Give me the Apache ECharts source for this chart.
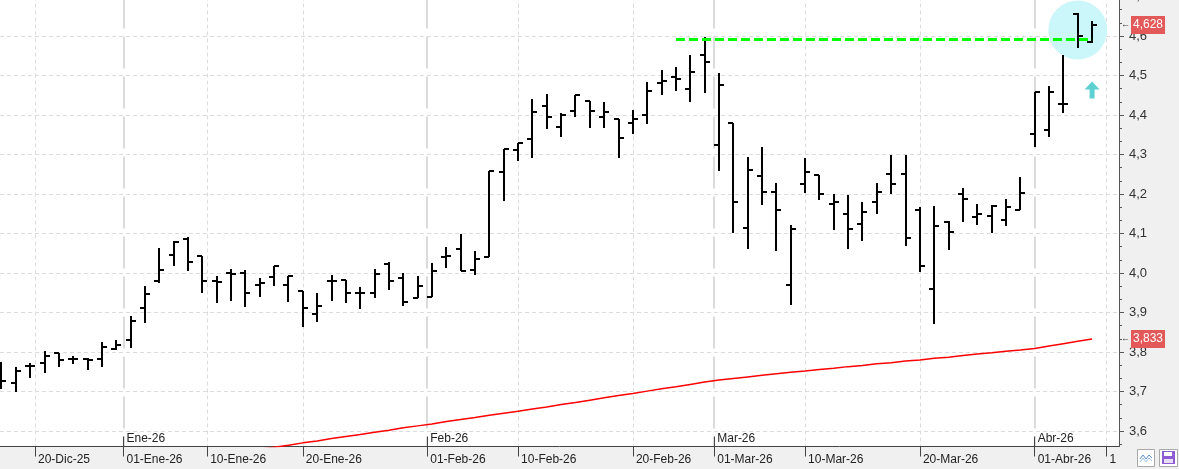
<!DOCTYPE html>
<html>
<head>
<meta charset="utf-8">
<title>OHLC diario</title>
<script src="https://cdn.jsdelivr.net/npm/echarts@6.0.0/dist/echarts.min.js"></script>
<style>
    html, body { margin: 0; padding: 0; background: #f0f0f0; }
    #chart_con { width: 1179px; height: 469px; }
</style>
</head>
<body>
<div id="chart_con"></div>
<script>
// trading days shown on the chart
const dates = [
    '2025-12-17', '2025-12-18', '2025-12-19', '2025-12-22', '2025-12-23', '2025-12-24', '2025-12-29', '2025-12-30', '2025-12-31',
    '2026-01-02', '2026-01-05', '2026-01-06', '2026-01-07', '2026-01-08', '2026-01-09', '2026-01-12', '2026-01-13', '2026-01-14',
    '2026-01-15', '2026-01-16', '2026-01-19', '2026-01-20', '2026-01-21', '2026-01-22', '2026-01-23', '2026-01-26', '2026-01-27',
    '2026-01-28', '2026-01-29', '2026-01-30',
    '2026-02-02', '2026-02-03', '2026-02-04', '2026-02-05', '2026-02-06', '2026-02-09', '2026-02-10', '2026-02-11', '2026-02-12',
    '2026-02-13', '2026-02-16', '2026-02-17', '2026-02-18', '2026-02-19', '2026-02-20', '2026-02-23', '2026-02-24', '2026-02-25',
    '2026-02-26', '2026-02-27',
    '2026-03-02', '2026-03-03', '2026-03-04', '2026-03-05', '2026-03-06', '2026-03-09', '2026-03-10', '2026-03-11', '2026-03-12',
    '2026-03-13', '2026-03-16', '2026-03-17', '2026-03-18', '2026-03-19', '2026-03-20', '2026-03-23', '2026-03-24', '2026-03-25',
    '2026-03-26', '2026-03-27', '2026-03-30', '2026-03-31',
    '2026-04-01', '2026-04-02', '2026-04-07', '2026-04-08', '2026-04-09'
];

const openValues = [
    3.742, 3.721, 3.765, 3.771, 3.797, 3.782, 3.782, 3.782, 3.807, 3.830,
    3.911, 3.979, 4.045, 4.086, 4.043, 3.981, 3.999, 3.999, 3.969, 3.989,
    3.969, 3.954, 3.895, 3.980, 3.982, 3.949, 3.950, 4.022, 3.987, 3.936,
    3.940, 4.040, 4.060, 4.007, 4.040, 4.255, 4.311, 4.338, 4.422, 4.369,
    4.410, 4.435, 4.395, 4.390, 4.381, 4.399, 4.482, 4.495, 4.466, 4.552,
    4.324, 4.379, 4.113, 4.245, 4.204, 3.969, 4.225, 4.247, 4.175, 4.149,
    4.123, 4.179, 4.250, 4.250, 4.159, 3.959, 4.129, 4.199, 4.143, 4.144,
    4.133, 4.159, 4.351, 4.362, 4.427, 4.656, 4.586
];
const highValues = [
    3.774, 3.761, 3.771, 3.802, 3.797, 3.790, 3.784, 3.825, 3.830, 3.891,
    3.967, 4.063, 4.081, 4.090, 4.043, 3.992, 4.009, 4.008, 3.987, 4.018,
    3.992, 3.954, 3.949, 3.995, 3.982, 3.965, 4.009, 4.027, 3.999, 3.992,
    4.025, 4.065, 4.099, 4.055, 4.258, 4.314, 4.328, 4.440, 4.453, 4.404,
    4.451, 4.435, 4.433, 4.391, 4.413, 4.484, 4.514, 4.522, 4.553, 4.598,
    4.506, 4.381, 4.294, 4.318, 4.227, 4.121, 4.291, 4.249, 4.199, 4.197,
    4.179, 4.227, 4.299, 4.299, 4.167, 4.170, 4.131, 4.214, 4.175, 4.171,
    4.187, 4.242, 4.458, 4.473, 4.552, 4.659, 4.639
];
const lowValues = [
    3.706, 3.699, 3.735, 3.748, 3.763, 3.770, 3.754, 3.763, 3.805, 3.811,
    3.874, 3.974, 4.018, 4.006, 3.950, 3.923, 3.930, 3.915, 3.940, 3.968,
    3.927, 3.864, 3.877, 3.930, 3.923, 3.910, 3.937, 3.957, 3.917, 3.936,
    3.940, 4.012, 4.004, 3.994, 4.040, 4.183, 4.283, 4.292, 4.365, 4.345,
    4.396, 4.368, 4.368, 4.292, 4.352, 4.378, 4.451, 4.462, 4.434, 4.456,
    4.259, 4.102, 4.062, 4.173, 4.056, 3.920, 4.203, 4.186, 4.109, 4.062,
    4.082, 4.150, 4.200, 4.069, 4.003, 3.872, 4.059, 4.130, 4.122, 4.102,
    4.120, 4.159, 4.320, 4.345, 4.406, 4.569, 4.583
];
const closeValues = [
    3.727, 3.751, 3.765, 3.789, 3.779, 3.782, 3.780, 3.812, 3.817, 3.878,
    3.946, 4.007, 4.078, 4.027, 3.979, 3.976, 3.998, 3.949, 3.974, 4.018,
    3.992, 3.911, 3.917, 3.980, 3.949, 3.949, 3.997, 3.979, 3.927, 3.966,
    4.004, 4.042, 4.004, 4.035, 4.258, 4.314, 4.328, 4.407, 4.396, 4.400,
    4.451, 4.409, 4.407, 4.341, 4.389, 4.460, 4.485, 4.490, 4.508, 4.535,
    4.475, 4.179, 4.260, 4.204, 4.159, 4.111, 4.255, 4.199, 4.179, 4.111,
    4.154, 4.204, 4.225, 4.088, 4.019, 4.118, 4.103, 4.187, 4.149, 4.169,
    4.168, 4.202, 4.458, 4.458, 4.427, 4.600, 4.628
];
// long moving average (red), only visible from mid January
const maValues = [
    null, null, null, null, null, null, null, null, null, null,
    null, null, null, null, null, null, null, null, 3.554, 3.559,
    3.564, 3.570, 3.575, 3.581, 3.586, 3.591, 3.597, 3.602, 3.608, 3.613,
    3.618, 3.624, 3.629, 3.634, 3.640, 3.645, 3.650, 3.656, 3.661, 3.667,
    3.672, 3.678, 3.684, 3.690, 3.695, 3.701, 3.707, 3.712, 3.718, 3.724,
    3.729, 3.733, 3.737, 3.741, 3.745, 3.749, 3.752, 3.756, 3.759, 3.763,
    3.766, 3.770, 3.773, 3.777, 3.780, 3.784, 3.787, 3.791, 3.795, 3.798,
    3.802, 3.805, 3.809, 3.815, 3.821, 3.827, 3.833
];

const dayTickDates = ['2025-12-20', '2026-01-01', '2026-01-10', '2026-01-20', '2026-02-01', '2026-02-10',
    '2026-02-20', '2026-03-01', '2026-03-10', '2026-03-20', '2026-04-01', '2026-04-10'];
const dayTickLabels = ['20-Dic-25', '01-Ene-26', '10-Ene-26', '20-Ene-26', '01-Feb-26', '10-Feb-26',
    '20-Feb-26', '01-Mar-26', '10-Mar-26', '20-Mar-26', '01-Abr-26', '1'];
const monthTickDates = ['2026-01-01', '2026-02-01', '2026-03-01', '2026-04-01'];
const monthTickLabels = ['Ene-26', 'Feb-26', 'Mar-26', 'Abr-26'];
const minorGridDates = ['2025-12-20', '2026-01-10', '2026-01-20', '2026-02-10', '2026-02-20',
    '2026-03-10', '2026-03-20', '2026-04-10'];
const yTickValues = [3.6, 3.7, 3.8, 3.9, 4.0, 4.1, 4.2, 4.3, 4.4, 4.5, 4.6, 4.7];

// annotations
const resistanceLevel = 4.592;
const resistanceFrom = '2026-02-25';
const resistanceTo = '2026-04-09';
const priceTags = [4.628, 3.833]; // last close, last moving average
const circleAt = ['2026-04-08', 4.615];
const arrowAt = ['2026-04-09', 4.463];

const FONT = "'Liberation Sans', Arial, sans-serif";
const X_MIN = -0.1045;
const X_MAX = 77.875;
const Y_MIN = 3.5608;
const Y_MAX = 4.7;

const dayTimes = dates.map(d => Date.parse(d));

// position of a calendar date on the trading-day axis
function datePos(d) {
    const t = Date.parse(d);
    for (let i = 0; i < dayTimes.length; i++) {
        if (dayTimes[i] === t) return i;
        if (dayTimes[i] > t) {
            const prev = dayTimes[i - 1];
            return i - 1 + (t - prev) / (dayTimes[i] - prev);
        }
    }
    return dayTimes.length - 1 + (t - dayTimes[dayTimes.length - 1]) / 86400000;
}

const dayTickPos = dayTickDates.map(datePos);
const monthTickPos = monthTickDates.map(datePos);
const minorGridPos = minorGridDates.map(datePos);

function labelFor(positions, labels) {
    return function (v) {
        let best = 0;
        for (let i = 1; i < positions.length; i++) {
            if (Math.abs(positions[i] - v) < Math.abs(positions[best] - v)) best = i;
        }
        return labels[best];
    };
}

const yMinorTicks = [];
for (let i = 0; i < yTickValues.length; i++) {
    const base = yTickValues[i] - 0.1;
    yMinorTicks.push(+(base + 0.1 / 3).toFixed(4), +(base + 0.2 / 3).toFixed(4));
}

const ohlcData = dates.map((d, i) => [i, openValues[i], highValues[i], lowValues[i], closeValues[i]]);
const maData = maValues.map((v, i) => [i, v == null ? '-' : v]);

function renderOhlc(params, api) {
    const i = api.value(0);
    const hi = api.coord([i, api.value(2)]);
    const lo = api.coord([i, api.value(3)]);
    const op = api.coord([i, api.value(1)]);
    const cl = api.coord([i, api.value(4)]);
    const x = Math.round(hi[0]);
    const style = { stroke: '#000', lineWidth: 2 };
    return {
        type: 'group',
        children: [
            { type: 'line', shape: { x1: x, y1: Math.round(hi[1]), x2: x, y2: Math.round(lo[1]) }, style: style },
            { type: 'line', shape: { x1: x - 5, y1: Math.round(op[1]), x2: x, y2: Math.round(op[1]) }, style: style },
            { type: 'line', shape: { x1: x, y1: Math.round(cl[1]), x2: x + 5, y2: Math.round(cl[1]) }, style: style }
        ]
    };
}

const chart = echarts.init(document.getElementById('chart_con'));

const xBase = { type: 'value', min: X_MIN, max: X_MAX, position: 'bottom' };
const yBase = { type: 'value', min: Y_MIN, max: Y_MAX, position: 'right' };

const option = {
    animation: false,
    backgroundColor: '#f0f0f0',
    grid: {
        left: 0, right: 60, top: -3.5, bottom: 22.5,
        show: true, backgroundColor: '#ffffff', borderWidth: 0,
        outerBoundsMode: 'none'
    },
    xAxis: [
        Object.assign({}, xBase, {
            axisLine: { show: true, onZero: false, lineStyle: { color: '#444', width: 1 } },
            axisTick: { show: true, length: 10, customValues: dayTickPos, lineStyle: { color: '#444' } },
            axisLabel: {
                customValues: dayTickPos, formatter: labelFor(dayTickPos, dayTickLabels),
                align: 'left', margin: 7, padding: [0, 0, 0, 3],
                color: '#222', fontSize: 12, fontFamily: FONT
            },
            splitLine: { show: false }
        }),
        Object.assign({}, xBase, {
            axisLine: { show: false, onZero: false },
            axisTick: { show: true, inside: true, length: 10, customValues: monthTickPos, lineStyle: { color: '#444' } },
            axisLabel: {
                inside: true, customValues: monthTickPos, formatter: labelFor(monthTickPos, monthTickLabels),
                align: 'left', margin: 2, padding: [0, 0, 0, 3],
                color: '#222', fontSize: 12, fontFamily: FONT
            },
            splitLine: { show: true, lineStyle: { color: '#d0d0d0', width: 1.5, type: [32, 8] } }
        }),
        Object.assign({}, xBase, {
            axisLine: { show: false, onZero: false },
            axisTick: { show: false, customValues: minorGridPos },
            axisLabel: { show: false, customValues: minorGridPos },
            splitLine: { show: true, lineStyle: { color: '#dcdcdc', width: 1, type: [4, 3] } }
        })
    ],
    yAxis: [
        Object.assign({}, yBase, {
            axisLine: { show: true, onZero: false, lineStyle: { color: '#555' } },
            axisTick: { show: true, length: 5, customValues: yTickValues, lineStyle: { color: '#555' } },
            axisLabel: {
                customValues: yTickValues, margin: 10,
                formatter: v => v.toFixed(1).replace('.', ','),
                color: '#333', fontSize: 13, fontFamily: FONT
            },
            splitLine: { show: true, lineStyle: { color: '#dcdcdc', width: 1, type: [4, 3] } }
        }),
        Object.assign({}, yBase, {
            axisLine: { show: false, onZero: false },
            axisTick: { show: true, length: 3, customValues: yMinorTicks, lineStyle: { color: '#555' } },
            axisLabel: { show: false, customValues: yMinorTicks },
            splitLine: { show: false }
        }),
        // price tags on the right axis
        Object.assign({}, yBase, {
            axisLine: { show: false, onZero: false },
            axisTick: { show: false, customValues: priceTags },
            axisLabel: {
                customValues: priceTags, margin: 2,
                formatter: v => '{a|←}{b|' + v.toFixed(3).replace('.', ',') + '}',
                rich: {
                    a: { color: '#444', fontSize: 9, fontFamily: FONT, padding: [0, 1, 0, 0] },
                    b: {
                        color: '#fff', backgroundColor: '#e35858', fontSize: 12, lineHeight: 12,
                        fontFamily: FONT, padding: [3, 2, 3, 2]
                    }
                }
            },
            splitLine: { show: false }
        })
    ],
    series: [
        {
            name: 'zona',
            type: 'scatter',
            silent: true,
            z: 1,
            symbolSize: 59,
            itemStyle: { color: '#ccf7fa', opacity: 1 },
            data: [[datePos(circleAt[0]), circleAt[1]]]
        },
        {
            name: 'OHLC',
            type: 'custom',
            z: 3,
            renderItem: renderOhlc,
            encode: { x: 0, y: [1, 2, 3, 4] },
            data: ohlcData
        },
        {
            name: 'Media',
            type: 'line',
            z: 4,
            showSymbol: false,
            connectNulls: false,
            lineStyle: { color: '#ff0000', width: 1.5 },
            data: maData,
            markLine: {
                silent: true,
                symbol: ['none', 'none'],
                animation: false,
                label: { show: false },
                lineStyle: { color: '#00ff00', width: 3, type: [9, 4] },
                data: [
                    [
                        { coord: [datePos(resistanceFrom), resistanceLevel] },
                        { coord: [datePos(resistanceTo), resistanceLevel] }
                    ]
                ]
            }
        },
        {
            name: 'flecha',
            type: 'scatter',
            silent: true,
            z: 5,
            symbol: 'path://M7.5,0 L15,8 L10,8 L10,17 L5,17 L5,8 L0,8 Z',
            symbolSize: [15, 17],
            itemStyle: { color: '#35c6c6' },
            data: [[datePos(arrowAt[0]), arrowAt[1]]]
        }
    ],
    graphic: [
        { type: 'rect', shape: { x: 1137.5, y: 449.5, width: 17, height: 17 }, style: { fill: '#fff', stroke: '#a8a8a8' } },
        { type: 'polyline', shape: { points: [[1140, 459], [1143, 455], [1146, 459], [1149, 455], [1152, 458]] }, style: { stroke: '#5b8fd0', fill: null, lineWidth: 1 } },
        { type: 'polyline', shape: { points: [[1140, 462], [1143, 458], [1146, 462], [1149, 458], [1152, 461]] }, style: { stroke: '#9cc0e8', fill: null, lineWidth: 1 } },
        { type: 'rect', shape: { x: 1159.5, y: 449.5, width: 18, height: 17 }, style: { fill: '#fff', stroke: '#a8a8a8' } },
        { type: 'rect', shape: { x: 1162, y: 451, width: 13, height: 13 }, style: { fill: '#8d5bd4' } },
        { type: 'rect', shape: { x: 1164, y: 452, width: 8, height: 4 }, style: { fill: '#fff' } },
        { type: 'rect', shape: { x: 1164, y: 459, width: 9, height: 4 }, style: { fill: '#e8def8' } }
    ]
};

chart.setOption(option);

window.addEventListener('resize', function () {
    chart.resize();
});
</script>
</body>
</html>
